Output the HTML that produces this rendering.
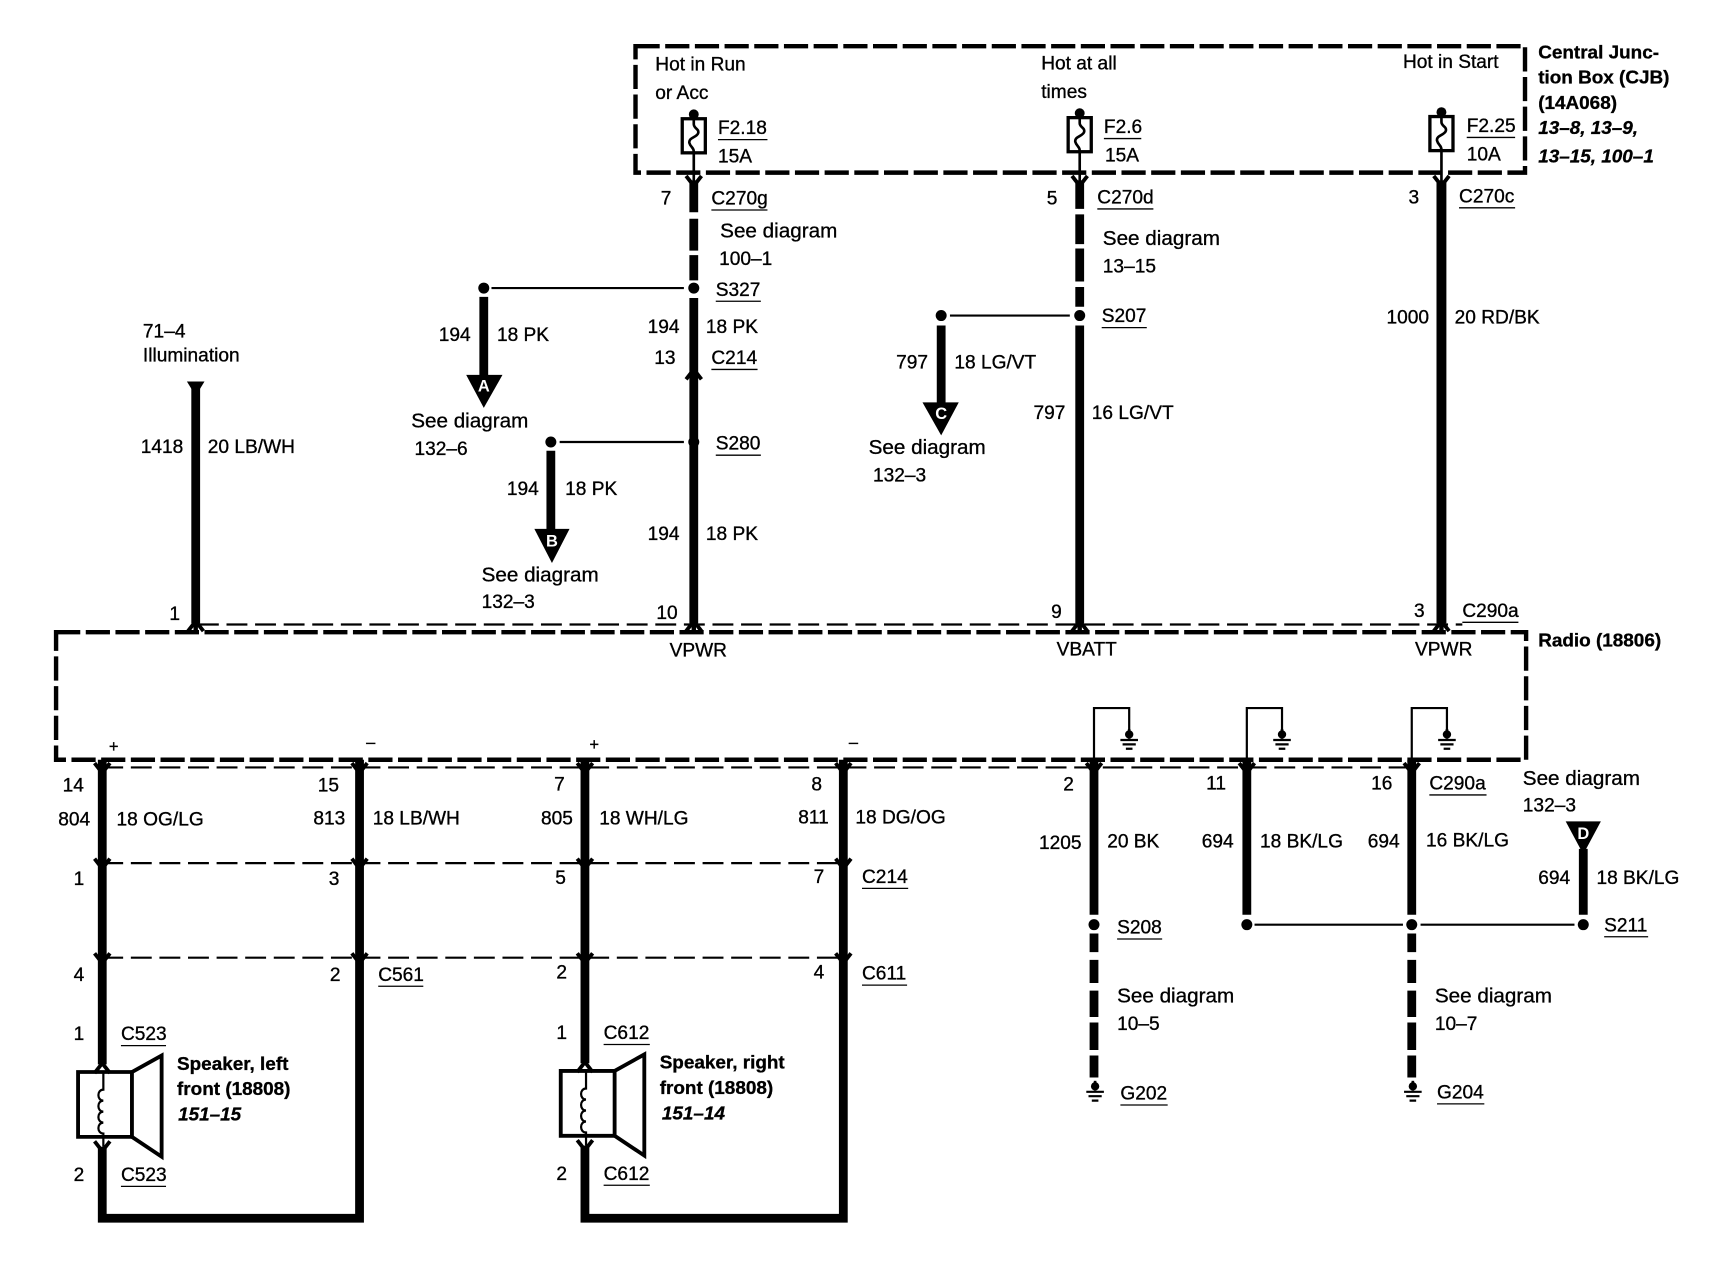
<!DOCTYPE html>
<html><head><meta charset="utf-8"><style>
html,body{margin:0;padding:0;background:#fff}
svg{display:block}
text{font-family:"Liberation Sans",Arial,sans-serif;font-size:17.4px;fill:#000;stroke:#000;stroke-width:.3}
.s{font-size:18.8px}
.b{font-weight:bold;font-size:17.2px}
.i{font-weight:bold;font-style:italic;font-size:17.2px}
.w{fill:#fff;stroke:none;font-weight:bold;font-size:15px;text-anchor:middle}
.box{fill:none;stroke:#000;stroke-width:4;stroke-dasharray:22 5}
.thd{fill:none;stroke:#000;stroke-width:2;stroke-dasharray:19 7}
.wire{fill:none;stroke:#000;stroke-width:8}
.thin{fill:none;stroke:#000;stroke-width:2}
.med{fill:none;stroke:#000;stroke-width:3.5}
.ul{stroke:#000;stroke-width:1.2}
</style></head><body>
<svg width="1724" height="1280" viewBox="0 0 1724 1280" xmlns="http://www.w3.org/2000/svg">
<defs>
<path id="dn" d="M-7 -6L0 3L7 -6" fill="none" stroke="#000" stroke-width="3.5"/>
<path id="up" d="M-7 6L0 -3L7 6" fill="none" stroke="#000" stroke-width="3.5"/>
<g id="fuse"><circle cx="0" cy="-4" r="4.5"/><rect x="-10.500" y="0" width="21" height="31" fill="#fff" stroke="#000" stroke-width="3"/><path d="M0 -2V5C0 9 5 9 4 13C3 17 -5 17 -4 22C-3 26 0 26 0 30V60" fill="none" stroke="#000" stroke-width="2.400"/></g>
<g id="gnd"><path d="M0 0V9" stroke="#000" stroke-width="2.400"/><circle cx="0" cy="5" r="3.800"/><path d="M-8 10H8M-6 14H6M-3 18H3" stroke="#000" stroke-width="2"/></g>
<g id="coil"><path d="M0 -8V8C-6 8 -6 18 0 18C-6 18 -6 28 0 28C-6 28 -6 38 0 38C-6 38 -6 48 0 48V60" fill="none" stroke="#000" stroke-width="2"/></g>
</defs>
<rect width="1724" height="1280" fill="#fff"/>
<g transform="scale(1.0995)">
<!-- boxes -->
<rect class="box" x="578" y="42" width="809" height="115"/>
<rect class="box" x="51" y="575" width="1337" height="116"/>
<path class="thd" d="M180 568H1330"/>
<path class="thd" d="M93 698H1286"/>
<path class="thd" d="M93 785H767"/>
<path class="thd" d="M93 871H767"/>
<!-- fuses -->
<use href="#fuse" x="631" y="108"/><use href="#fuse" x="982" y="107"/><use href="#fuse" x="1311" y="106"/>
<!-- top wires -->
<path class="wire" d="M631 164V193M631 199V228M631 232V255M631 271V567"/>
<path class="wire" d="M982 164V190M982 195V222M982 226V256M982 261V279M982 296V567"/>
<path class="wire" style="stroke-width:9" d="M1311 164V567"/>
<path class="wire" d="M178 350V567"/>
<path d="M170 347H186L178 360Z"/>
<path d="M178 567V575M631 567V575M982 567V575M1311 567V575" stroke="#000" stroke-width="4"/>
<use href="#dn" x="631" y="166"/><use href="#dn" x="982" y="166"/><use href="#dn" x="1311" y="166"/>
<use href="#up" x="631" y="339"/><use href="#up" x="178" y="568"/><use href="#up" x="631" y="568"/><use href="#up" x="982" y="568"/><use href="#up" x="1311" y="568"/>
<!-- branches -->
<path class="thin" d="M447 262H622M509 402H622M864 287H973"/>
<circle cx="631" cy="262" r="5"/><circle cx="631" cy="402" r="5"/><circle cx="982" cy="287" r="5"/>
<circle cx="440" cy="262" r="5"/><circle cx="501" cy="402" r="5"/><circle cx="856" cy="287" r="5"/>
<path class="wire" d="M440 270V345M501 410V485M856 296V370"/>
<path d="M424 341H457L440 371Z"/><path d="M486 481H518L502 512Z"/><path d="M839 366H872L856 396Z"/><path d="M1424 747H1456L1440 777Z"/>
<text class="w" x="440" y="356">A</text><text class="w" x="502" y="497">B</text><text class="w" x="856" y="381">C</text><text class="w" x="1440" y="763">D</text>
<path class="wire" d="M1440 772V832"/>
<!-- lower wires -->
<path class="wire" d="M93 691V968M93 1043V1108H327V691"/>
<path class="wire" d="M532 691V967M532 1042V1108H767V691"/>
<path class="wire" d="M995 691V832M995 849V866M995 873V894M995 901V925M995 930V955M995 960V980"/>
<path class="wire" d="M1134 691V832"/>
<path class="wire" d="M1284 691V832M1284 849V866M1284 873V894M1284 901V925M1284 930V955M1284 960V980"/>
<use href="#dn" x="93" y="700"/><use href="#dn" x="327" y="700"/><use href="#dn" x="532" y="700"/><use href="#dn" x="767" y="700"/><use href="#dn" x="995" y="700"/><use href="#dn" x="1134" y="700"/><use href="#dn" x="1284" y="700"/>
<use href="#dn" x="93" y="787"/><use href="#dn" x="327" y="787"/><use href="#dn" x="532" y="787"/><use href="#dn" x="767" y="787"/>
<use href="#dn" x="93" y="873"/><use href="#dn" x="327" y="873"/><use href="#dn" x="532" y="873"/><use href="#dn" x="767" y="873"/>
<!-- dots -->
<circle cx="995" cy="841" r="5"/><circle cx="1134" cy="841" r="5"/><circle cx="1284" cy="841" r="5"/><circle cx="1440" cy="841" r="5"/>
<path class="thin" d="M1141 841H1276M1292 841H1432"/>
<!-- grounds loops -->
<path class="thin" d="M995 691V644H1027V665M1134 691V644H1166V665M1284 691V644H1316V665"/>
<use href="#gnd" x="1027" y="663"/><use href="#gnd" x="1166" y="663"/><use href="#gnd" x="1316" y="663"/>
<use href="#gnd" x="996" y="983"/><use href="#gnd" x="1285" y="983"/>
<!-- speakers -->
<path class="med" d="M71 975H120V1034H71Z"/><path class="med" d="M120 975L147 960V1052L120 1034"/>
<path class="med" d="M510 974H559V1033H510Z"/><path class="med" d="M559 974L586 959V1051L559 1033"/>
<use href="#coil" x="94" y="983"/><use href="#coil" x="533" y="982"/>
<use href="#up" x="93" y="970"/><use href="#dn" x="93" y="1044"/><use href="#up" x="532" y="969"/><use href="#dn" x="532" y="1043"/>
<!-- underlines -->
<path class="ul" d="M653 127H698M1004 126H1038M1334 125H1378M647 191H698M998 190H1049M1327 189H1378M651 274H692M647 336H689M651 414H692M1002 298H1043M1330 566H1381M1300 723H1352M784 808H826M344 897H385M784 896H825M110 951H151M549 950H591M110 1079H151M549 1078H591M1016 854H1057M1459 852H1499M1019 1005H1062M1307 1004H1350"/>
<!-- text -->
<text x="596" y="64">Hot in Run</text><text x="596" y="90">or Acc</text><text x="653" y="122">F2.18</text><text x="653" y="148">15A</text>
<text x="947" y="63">Hot at all</text><text x="947" y="89">times</text><text x="1004" y="121">F2.6</text><text x="1005" y="147">15A</text>
<text x="1276" y="62">Hot in Start</text><text x="1334" y="120">F2.25</text><text x="1334" y="146">10A</text>
<text class="b" x="1399" y="53">Central Junc-</text><text class="b" x="1399" y="76">tion Box (CJB)</text><text class="b" x="1399" y="99">(14A068)</text><text class="i" x="1399" y="122">13–8, 13–9,</text><text class="i" x="1399" y="148">13–15, 100–1</text>
<text x="601" y="186">7</text><text x="647" y="186">C270g</text><text class="s" x="655" y="216">See diagram</text><text x="654" y="241">100–1</text>
<text x="952" y="186">5</text><text x="998" y="185">C270d</text><text class="s" x="1003" y="223">See diagram</text><text x="1003" y="248">13–15</text>
<text x="1281" y="185">3</text><text x="1327" y="184">C270c</text>
<text x="651" y="269">S327</text><text x="589" y="303">194</text><text x="642" y="303">18 PK</text><text x="595" y="331">13</text><text x="647" y="331">C214</text>
<text x="399" y="310">194</text><text x="452" y="310">18 PK</text><text class="s" x="374" y="389">See diagram</text><text x="377" y="414">132–6</text>
<text x="651" y="409">S280</text><text x="461" y="450">194</text><text x="514" y="450">18 PK</text><text class="s" x="438" y="529">See diagram</text><text x="438" y="553">132–3</text>
<text x="589" y="491">194</text><text x="642" y="491">18 PK</text><text x="597" y="563">10</text>
<text x="1002" y="293">S207</text><text x="815" y="335">797</text><text x="868" y="335">18 LG/VT</text><text class="s" x="790" y="413">See diagram</text><text x="794" y="438">132–3</text>
<text x="940" y="381">797</text><text x="993" y="381">16 LG/VT</text><text x="956" y="562">9</text>
<text x="1261" y="294">1000</text><text x="1323" y="294">20 RD/BK</text><text x="1286" y="561">3</text><text x="1330" y="561">C290a</text>
<text x="130" y="307">71–4</text><text x="130" y="329">Illumination</text><text x="128" y="412">1418</text><text x="189" y="412">20 LB/WH</text><text x="154" y="564">1</text>
<text class="b" x="1399" y="588">Radio (18806)</text><text x="609" y="597">VPWR</text><text x="961" y="596">VBATT</text><text x="1287" y="596">VPWR</text>
<text x="99" y="684" style="font-size:15px">+</text><text x="333" y="680" style="font-size:15px">–</text><text x="536" y="682" style="font-size:15px">+</text><text x="772" y="680" style="font-size:15px">–</text>
<text x="57" y="720">14</text><text x="289" y="720">15</text><text x="504" y="719">7</text><text x="738" y="719">8</text><text x="967" y="719">2</text><text x="1097" y="718">11</text><text x="1247" y="718">16</text><text x="1300" y="718">C290a</text>
<text x="53" y="751">804</text><text x="106" y="751">18 OG/LG</text><text x="285" y="750">813</text><text x="339" y="750">18 LB/WH</text><text x="492" y="750">805</text><text x="545" y="750">18 WH/LG</text><text x="726" y="749">811</text><text x="778" y="749">18 DG/OG</text>
<text x="945" y="772">1205</text><text x="1007" y="771">20 BK</text><text x="1093" y="771">694</text><text x="1146" y="771">18 BK/LG</text><text x="1244" y="771">694</text><text x="1297" y="770">16 BK/LG</text>
<text class="s" x="1385" y="714">See diagram</text><text x="1385" y="738">132–3</text><text x="1399" y="804">694</text><text x="1452" y="804">18 BK/LG</text><text x="1459" y="847">S211</text>
<text x="67" y="805">1</text><text x="299" y="805">3</text><text x="505" y="804">5</text><text x="740" y="803">7</text><text x="784" y="803">C214</text>
<text x="67" y="892">4</text><text x="300" y="892">2</text><text x="506" y="890">2</text><text x="740" y="890">4</text><text x="344" y="892">C561</text><text x="784" y="891">C611</text>
<text x="67" y="946">1</text><text x="110" y="946">C523</text><text x="506" y="945">1</text><text x="549" y="945">C612</text>
<text class="b" x="161" y="973">Speaker, left</text><text class="b" x="161" y="996">front (18808)</text><text class="i" x="162" y="1019">151–15</text>
<text class="b" x="600" y="972">Speaker, right</text><text class="b" x="600" y="995">front (18808)</text><text class="i" x="602" y="1018">151–14</text>
<text x="67" y="1074">2</text><text x="110" y="1074">C523</text><text x="506" y="1073">2</text><text x="549" y="1073">C612</text>
<text x="1016" y="849">S208</text><text class="s" x="1016" y="912">See diagram</text><text x="1016" y="937">10–5</text><text x="1019" y="1000">G202</text>
<text class="s" x="1305" y="912">See diagram</text><text x="1305" y="937">10–7</text><text x="1307" y="999">G204</text>
</g>
</svg>
</body></html>
